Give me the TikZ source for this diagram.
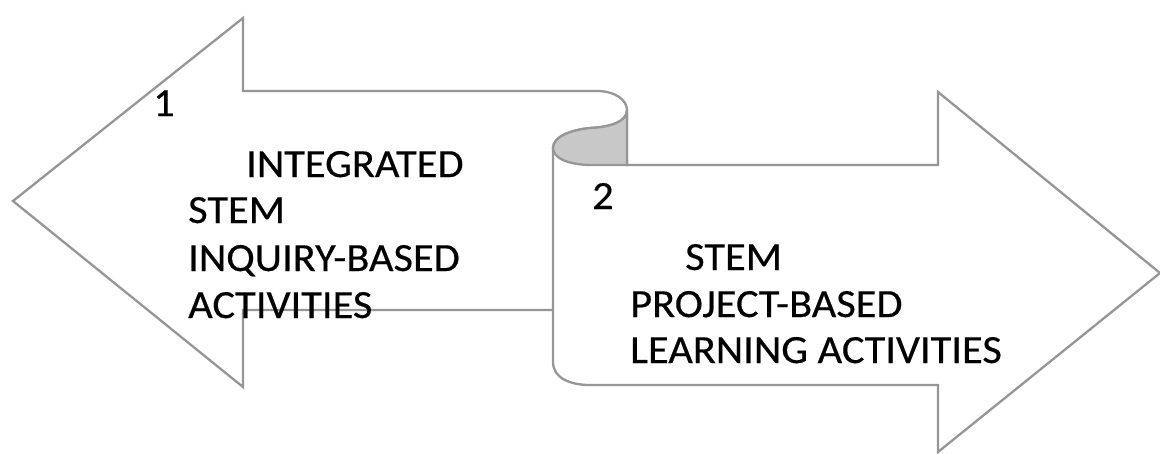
\documentclass[tikz,border=0pt]{standalone}
\usepackage{fontspec}
\setmainfont{Carlito}[FakeStretch=1.06,FakeBold=0.4]
\definecolor{edge}{RGB}{150,150,150}
\definecolor{curl}{RGB}{200,200,200}
\begin{document}
\begin{tikzpicture}[x=1pt,y=-1pt,
  outline/.style={draw=edge,line width=2.3pt,line join=miter},
  lbl/.style={anchor=base west,inner sep=0pt,font=\fontsize{40}{46}\selectfont,text=black}]
\useasboundingbox (0,0) rectangle (1160,453);
% left arrow
\draw[outline] (553,310) -- (243,310) -- (243,387) -- (13,201) -- (243,18) -- (243,91) -- (597,91);
% scroll / right arrow body
\draw[outline,fill=white] (597,91) .. controls (615,91) and (627,100) .. (627,110)
  .. controls (627,122) and (610,127) .. (590,128)
  .. controls (570,130) and (553,137) .. (553,148)
  -- (553,362) .. controls (553,378) and (570,385) .. (590,385)
  -- (938,385) -- (938,452) -- (1160,273) -- (938,92) -- (938,165) -- (627,165) -- (627,110);
% curl shading
\draw[outline,fill=curl] (627,110) .. controls (627,122) and (610,127) .. (590,128)
  .. controls (570,130) and (553,137) .. (553,148)
  .. controls (553,158) and (568,165) .. (592,165) -- (627,165) -- cycle;
% top edge
\draw[outline] (243,91) -- (597,91);
% texts
\node[lbl] (n1) at (153,116) {1};
\node[lbl] (a1) at (246,177) {INTEGRATED};
\node[lbl] (a2) at (188,223) {STEM};
\node[lbl] (a3) at (188,271) {INQUIRY-BASED};
\node[lbl] (a4) at (188,318) {ACTIVITIES};
\node[lbl] (n2) at (592,209) {2};
\node[lbl] (b1) at (685,270) {STEM};
\node[lbl] (b2) at (630,317) {PROJECT-BASED};
\node[lbl] (b3) at (630,363) {LEARNING ACTIVITIES};
\end{tikzpicture}
\end{document}
